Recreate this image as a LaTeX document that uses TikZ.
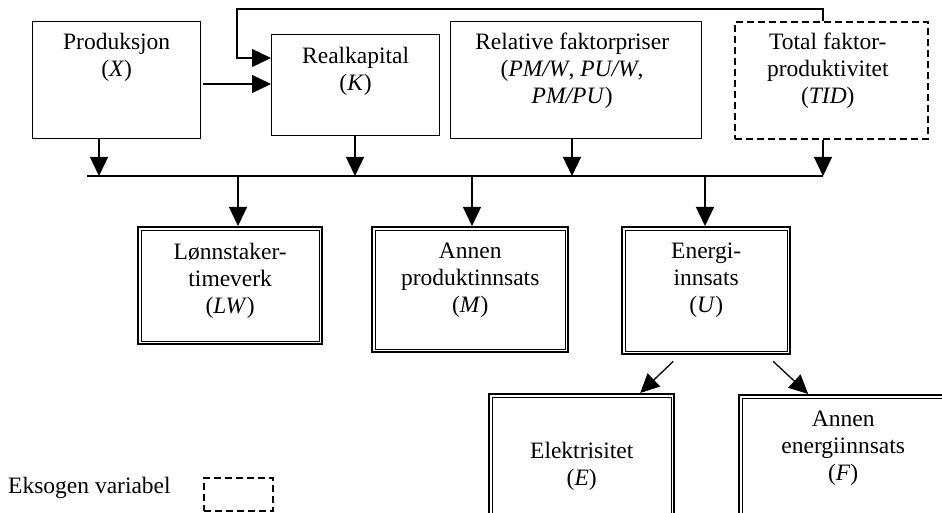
\documentclass[tikz,border=0pt]{standalone}
\usepackage{fontspec}
\setmainfont{Liberation Serif}
\usetikzlibrary{arrows.meta}
% thin inner frame of a double-framed box
\newcommand\innerframe[1]{%
  \draw[line width=1.1pt] ([xshift=4.3pt,yshift=-4.3pt]#1.north west)
    rectangle ([xshift=-4.3pt,yshift=4.3pt]#1.south east);}
\begin{document}
\begin{tikzpicture}[x=1pt,y=-1pt,
  every node/.style={font=\fontsize{23.5}{27}\selectfont},
  plainbox/.style={draw, line width=1.3pt, rectangle, inner sep=0pt, anchor=north west},
  exobox/.style={draw, line width=1.6pt, dash pattern=on 7pt off 4pt, rectangle, inner sep=0pt, anchor=north west},
  dblbox/.style={draw, line width=2.4pt, rectangle, inner sep=0pt, anchor=north west},
  lbl/.style={align=center, inner sep=0pt},
  conn/.style={line width=1.3pt},
  arr/.style={conn, -{Triangle[length=19pt,width=18pt]}},
]
\useasboundingbox (0,0) rectangle (942,513);
\clip (0,0) rectangle (942,513);

% top row
\node[plainbox, minimum width=168pt, minimum height=117pt] (prod) at (32,21) {};
\node[plainbox, minimum width=168pt, minimum height=101pt] (real) at (271,34) {};
\node[plainbox, minimum width=251pt, minimum height=117pt] (rel) at (450,21) {};
\node[exobox, minimum width=193pt, minimum height=117pt] (tid) at (734,21) {};

\node[lbl] (prodT) at ([yshift=-36.5pt]prod.north) {Produksjon\\(\textit{X})};
\node[lbl] (realT) at ([yshift=-37.5pt]real.north) {Realkapital\\(\textit{K})};
\node[lbl] (relT) at ([xshift=-4pt,yshift=-50pt]rel.north)
  {Relative faktorpriser\\(\textit{PM/W}, \textit{PU/W},\\\textit{PM/PU})};
\node[lbl] (tidT) at ([xshift=-3.5pt,yshift=-50pt]tid.north)
  {Total faktor-\\produktivitet\\(\textit{TID})};

% middle row
\node[dblbox, minimum width=184pt, minimum height=117pt] (lw) at (137,226) {};
\node[dblbox, minimum width=196pt, minimum height=125pt] (mi) at (371,226) {};
\node[dblbox, minimum width=168pt, minimum height=127pt] (en) at (621,226) {};
\innerframe{lw}
\innerframe{mi}
\innerframe{en}
\node[lbl] (lwT) at ([yshift=-55pt]lw.north) {Lønnstaker-\\timeverk\\(\textit{LW})};
\node[lbl] (miT) at ([yshift=-54pt]mi.north) {Annen\\produktinnsats\\(\textit{M})};
\node[lbl] (enT) at ([yshift=-54pt]en.north) {Energi-\\innsats\\(\textit{U})};

% bottom row
\node[dblbox, minimum width=185pt, minimum height=140pt] (el) at (488,393) {};
\node[dblbox, minimum width=208pt, minimum height=140pt] (fe) at (738,394) {};
\innerframe{el}
\innerframe{fe}
\node[lbl] (elT) at ([yshift=-73pt]el.north) {Elektrisitet\\(\textit{E})};
\node[lbl] (feT) at ([yshift=-54pt]fe.north) {Annen\\energiinnsats\\(\textit{F})};

% legend
\node[anchor=west, inner sep=0pt] (legT) at (8,488) {Eksogen variabel};
\node[exobox, minimum width=69pt, minimum height=33pt] (leg) at (203,477) {};

% collecting line
\coordinate (busL) at (87,176);
\coordinate (busR) at (823,176);
\coordinate (b1) at (99,176);
\coordinate (b2) at (355,176);
\coordinate (b3) at (572,176);
\coordinate (d1) at (238,176);
\coordinate (d2) at (472,176);
\coordinate (d3) at (705,176);
\draw[conn] (busL) -- (busR);

\draw[arr] (prod.south -| b1) -- (b1);
\draw[arr] (real.south -| b2) -- (b2);
\draw[arr] (rel.south -| b3) -- (b3);
\draw[arr] (tid.south -| busR) -- (busR);

\draw[arr] (d1) -- (d1 |- lw.north);
\draw[arr] (d2) -- (d2 |- mi.north);
\draw[arr] (d3) -- (d3 |- en.north);

% production to capital, and productivity feedback
\coordinate (pk) at (203,84);
\draw[arr] (pk) -- (real.west |- pk);
\coordinate (fbTop) at (237,9);
\coordinate (fbIn) at (237,58);
\draw[arr] (tid.north -| busR) |- (fbTop) -- (fbIn) -- (real.west |- fbIn);

% energy split
\draw[arr] ([xshift=-33pt,yshift=-6pt]en.south) -- ([xshift=58.5pt]el.north);
\draw[arr] ([xshift=67pt,yshift=-6pt]en.south) -- ([xshift=-35pt]fe.north);
\end{tikzpicture}
\end{document}
